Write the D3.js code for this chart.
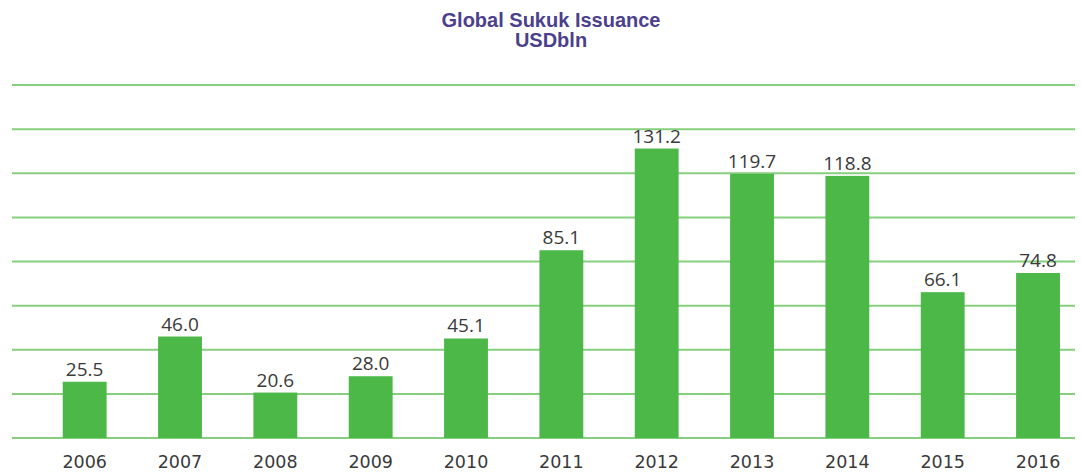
<!DOCTYPE html>
<html>
<head>
<meta charset="utf-8">
<script src="https://cdn.jsdelivr.net/npm/d3@7"></script>
<style>
  body { margin: 0; background: #fff; }
  svg { display: block; }
</style>
</head>
<body>
<div class="main-container"></div>
<script>
const years = ["2006", "2007", "2008", "2009", "2010", "2011", "2012", "2013", "2014", "2015", "2016"];
const issuance = [25.5, 46.0, 20.6, 28.0, 45.1, 85.1, 131.2, 119.7, 118.8, 66.1, 74.8];
const gridTicks = [0, 20, 40, 60, 80, 100, 120, 140, 160];
const titleLines = ["Global Sukuk Issuance", "USDbln"];

const width = 1081;
const height = 473;

const svg = d3.select(".main-container")
    .append("svg")
    .attr("width", width)
    .attr("height", height);

const x = d3.scaleBand()
    .domain(years)
    .range([37, 1085.7])
    .paddingInner(0.54)
    .paddingOuter(0.27);

const y = d3.scaleLinear()
    .domain([0, 160])
    .range([438, 85]);

// grid lines
svg.append("g")
    .selectAll("line")
    .data(gridTicks)
    .enter()
    .append("line")
    .attr("x1", 12)
    .attr("x2", 1075)
    .attr("y1", d => y(d))
    .attr("y2", d => y(d))
    .style("stroke", "#86cf7c")
    .style("stroke-width", 2);

// bars
svg.append("g")
    .selectAll("rect")
    .data(issuance)
    .enter()
    .append("rect")
    .attr("x", (d, i) => x(years[i]))
    .attr("width", x.bandwidth())
    .attr("y", d => y(d))
    .attr("height", d => y(0) - y(d))
    .style("fill", "#4cb848");

// value labels
svg.append("g")
    .selectAll("text")
    .data(issuance)
    .enter()
    .append("text")
    .attr("x", (d, i) => x(years[i]) + x.bandwidth() / 2)
    .attr("y", d => y(d) - 6)
    .attr("text-anchor", "middle")
    .style("font-family", "'Open Sans', sans-serif")
    .style("font-size", "19px")
    .style("fill", "#3a3a3a")
    .text(d => d.toFixed(1));

// year labels
svg.append("g")
    .selectAll("text")
    .data(years)
    .enter()
    .append("text")
    .attr("x", d => x(d) + x.bandwidth() / 2)
    .attr("y", 468)
    .attr("text-anchor", "middle")
    .style("font-family", "'DejaVu Sans', sans-serif")
    .style("font-size", "17.5px")
    .style("fill", "#3a3a3a")
    .text(d => d);

// title
svg.append("g")
    .selectAll("text")
    .data(titleLines)
    .enter()
    .append("text")
    .attr("x", 551)
    .attr("y", (d, i) => 27 + i * 20)
    .attr("text-anchor", "middle")
    .style("font-family", "'Liberation Sans', Arial, sans-serif")
    .style("font-weight", "bold")
    .style("font-size", "20px")
    .style("fill", "#4b3f8e")
    .text(d => d);
</script>
</body>
</html>
